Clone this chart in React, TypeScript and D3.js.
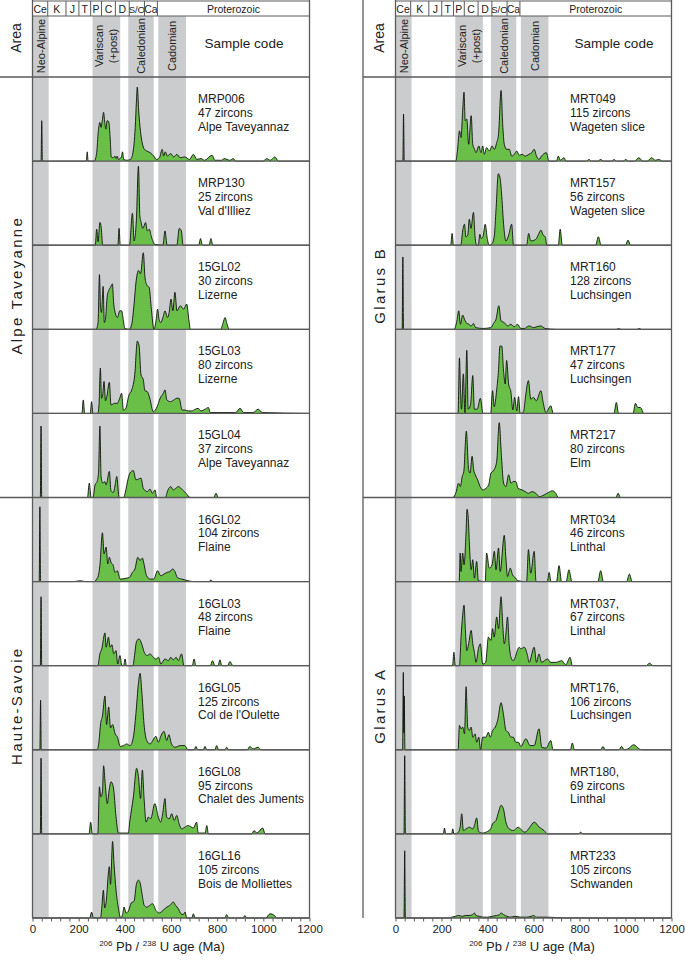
import React, { useEffect, useRef } from 'react';
import * as d3 from 'd3';

// geological time scale (Ma)
const periodNames = ["Ce", "K", "J", "T", "P", "C", "D", "S/O", "Ca", "Proterozoic"];
const periodBounds = [0, 66, 145, 201, 252, 299, 359, 419, 485, 541, 1200];

// orogenic bands (Ma)
const bandLabels = [["Neo-Alpine"], ["Variscan", "(+post)"], ["Caledonian"], ["Cadomian"]];
const bandStarts = [0, 260, 415, 545];
const bandEnds = [70, 380, 525, 665];

const leftAreas = ["Alpe Taveyanne", "Haute-Savoie"];
const rightAreas = ["Glarus B", "Glarus A"];

const leftCodes = ["MRP006", "MRP130", "15GL02", "15GL03", "15GL04", "16GL02", "16GL03", "16GL05", "16GL08", "16GL16"];
const leftCounts = [47, 25, 30, 80, 37, 104, 48, 125, 95, 105];
const leftPlaces = ["Alpe Taveyannaz", "Val d'Illiez", "Lizerne", "Lizerne", "Alpe Taveyannaz", "Flaine", "Flaine", "Col de l'Oulette", "Chalet des Juments", "Bois de Molliettes"];

const rightCodes = ["MRT049", "MRT157", "MRT160", "MRT177", "MRT217", "MRT034", "MRT037,", "MRT176,", "MRT180,", "MRT233"];
const rightCounts = [115, 56, 128, 47, 80, 46, 67, 106, 69, 105];
const rightPlaces = ["Wageten slice", "Wageten slice", "Luchsingen", "Luchsingen", "Elm", "Linthal", "Linthal", "Luchsingen", "Linthal", "Schwanden"];

// probability density curves: [age Ma, relative density %]
const leftCurves: number[][][] = [
    [[0,0],[37,0],[40,48],[43,0],[233,0],[237,11],[241,0],[268,0],[278,10],[285,35],[292,46],[297,40],[302,48],[308,58],[313,46],[318,38],[323,48],[330,47],[337,25],[341,5],[350,4],[357,6],[362,3],[367,6],[372,2],[385,5],[390,11],[395,2],[410,1],[425,2],[435,10],[445,40],[450,70],[454,88],[460,60],[468,35],[475,22],[485,14],[495,12],[510,10],[525,6],[537,2],[550,4],[562,14],[568,6],[575,11],[585,6],[598,9],[612,5],[625,8],[640,4],[660,5],[680,2],[697,8],[712,2],[730,3],[745,1],[778,7],[790,1],[820,1],[830,3],[855,1],[870,3],[880,0],[1000,0],[1014,3],[1030,1],[1050,5],[1065,0],[1200,0]],
    [[0,0],[272,0],[278,19],[284,4],[292,27],[298,20],[304,0],[370,0],[375,20],[380,0],[420,0],[433,38],[440,5],[450,30],[459,94],[465,35],[470,28],[478,20],[490,27],[497,17],[506,19],[515,10],[530,1],[565,0],[574,17],[583,0],[625,0],[636,20],[645,17],[652,0],[720,0],[728,8],[736,0],[765,0],[773,8],[781,0],[1200,0]],
    [[0,0],[275,0],[284,8],[290,65],[295,25],[299,20],[306,51],[311,8],[316,12],[324,40],[330,46],[338,50],[346,54],[352,30],[358,20],[368,14],[378,22],[386,22],[394,10],[400,1],[420,0],[430,6],[440,30],[448,55],[459,70],[468,66],[480,91],[488,60],[497,52],[505,50],[515,24],[526,0],[535,10],[542,24],[548,12],[555,8],[565,14],[574,22],[585,14],[592,20],[600,36],[608,22],[617,44],[626,22],[640,28],[655,24],[668,30],[678,10],[684,0],[815,0],[826,8],[834,14],[843,6],[852,0],[1200,0]],
    [[0,0],[214,0],[220,16],[226,0],[250,0],[256,14],[262,0],[283,0],[288,10],[294,54],[299,18],[304,22],[310,38],[316,15],[322,20],[333,37],[340,10],[355,12],[367,12],[378,18],[386,24],[394,4],[404,6],[418,22],[430,28],[443,46],[454,86],[462,80],[470,46],[480,40],[487,27],[497,26],[508,18],[523,2],[540,8],[553,18],[567,24],[574,28],[582,16],[598,14],[612,16],[625,18],[635,18],[648,4],[660,4],[675,3],[690,3],[705,5],[718,6],[730,3],[748,5],[762,7],[770,1],[880,1],[899,6],[915,1],[955,1],[978,5],[995,1],[1200,0]],
    [[0,0],[34,0],[37,85],[40,0],[238,0],[246,17],[254,0],[262,0],[271,15],[280,19],[286,30],[292,85],[297,25],[305,17],[313,19],[319,15],[333,31],[340,8],[350,6],[358,15],[365,25],[375,0],[395,0],[402,6],[414,22],[422,29],[437,32],[448,21],[470,23],[480,11],[497,7],[509,10],[519,5],[531,9],[538,0],[575,0],[587,9],[599,13],[610,9],[621,11],[632,13],[650,9],[665,5],[683,0],[785,0],[795,5],[805,0],[1200,0]],
    [[0,0],[29,0],[32,89],[35,0],[180,0],[206,1],[230,0],[268,0],[278,3],[285,7],[292,19],[303,58],[310,33],[319,41],[326,21],[333,29],[340,23],[350,19],[357,11],[367,13],[380,3],[405,4],[420,5],[433,11],[444,15],[456,29],[466,25],[476,28],[483,21],[494,7],[510,3],[525,3],[542,13],[555,7],[570,9],[584,11],[596,12],[607,15],[617,12],[627,5],[646,3],[660,2],[700,0],[765,0],[773,2],[781,0],[1200,0]],
    [[0,0],[34,0],[37,82],[40,0],[283,0],[292,14],[300,20],[314,39],[319,22],[329,34],[336,22],[344,25],[352,14],[362,18],[369,2],[379,12],[387,0],[395,0],[401,8],[407,0],[435,0],[442,12],[450,28],[461,32],[473,26],[484,16],[497,12],[509,14],[523,10],[535,8],[546,10],[556,2],[574,8],[589,6],[599,10],[610,7],[622,10],[632,6],[646,14],[656,0],[692,0],[700,8],[708,0],[770,0],[780,6],[790,0],[804,0],[812,7],[820,0],[845,0],[855,5],[868,0],[1200,0]],
    [[0,0],[32,0],[35,59],[38,0],[280,0],[288,10],[295,31],[303,40],[314,64],[321,30],[330,51],[338,26],[347,30],[358,19],[368,15],[380,4],[394,5],[408,7],[423,5],[437,15],[448,43],[459,79],[466,91],[473,71],[483,31],[495,11],[509,7],[535,16],[545,9],[557,17],[570,22],[581,11],[591,18],[602,7],[617,3],[640,5],[660,5],[673,0],[700,0],[708,4],[716,0],[740,0],[747,4],[755,0],[790,0],[798,5],[806,0],[833,0],[841,3],[850,0],[930,0],[942,4],[955,1],[978,3],[990,0],[1200,0]],
    [[0,0],[34,0],[37,90],[40,0],[245,0],[252,14],[259,0],[283,0],[290,56],[296,44],[303,50],[308,81],[315,60],[324,36],[332,52],[340,62],[350,56],[362,20],[372,1],[415,1],[422,16],[437,44],[451,78],[459,68],[468,42],[476,76],[483,44],[492,14],[502,20],[512,18],[530,36],[545,20],[555,14],[564,24],[574,42],[581,20],[593,18],[603,24],[614,16],[625,22],[635,12],[646,6],[660,8],[675,10],[697,7],[711,14],[718,1],[748,1],[755,10],[762,0],[950,0],[960,4],[972,1],[997,7],[1008,0],[1200,0]],
    [[0,0],[248,0],[256,7],[264,0],[295,0],[300,12],[307,33],[313,12],[318,17],[333,61],[338,40],[347,91],[353,65],[362,33],[372,12],[382,0],[390,4],[397,13],[405,6],[415,8],[428,18],[440,20],[450,40],[459,45],[466,42],[476,26],[484,15],[495,13],[508,15],[520,17],[535,9],[550,6],[565,9],[582,13],[595,15],[610,19],[620,15],[632,11],[643,5],[653,4],[661,7],[668,0],[690,0],[697,5],[704,0],[833,0],[841,4],[850,0],[912,0],[920,3],[928,0],[1010,0],[1029,5],[1048,3],[1060,0],[1200,0]],
];

const rightCurves: number[][][] = [
    [[0,0],[32,0],[35,56],[38,0],[262,0],[270,14],[278,36],[285,28],[292,60],[298,82],[303,48],[310,50],[318,20],[329,54],[336,20],[344,14],[350,10],[362,18],[372,10],[379,18],[386,8],[396,16],[408,12],[420,18],[430,14],[440,22],[448,32],[459,84],[466,44],[473,20],[483,14],[495,14],[505,6],[516,8],[527,12],[538,7],[550,8],[564,6],[580,8],[592,10],[603,14],[613,6],[624,2],[635,6],[656,10],[667,0],[700,0],[708,6],[716,1],[733,4],[741,0],[830,0],[841,2],[852,0],[880,0],[892,2],[904,0],[940,0],[950,2],[960,0],[990,0],[1000,2],[1012,0],[1040,0],[1058,4],[1075,0],[1095,0],[1113,4],[1130,1],[1145,2],[1160,0],[1200,0]],
    [[0,0],[240,0],[246,14],[252,0],[284,0],[292,17],[300,25],[306,10],[314,12],[321,31],[328,20],[339,39],[346,10],[352,0],[360,0],[367,13],[372,8],[380,10],[390,25],[399,8],[407,0],[420,2],[430,12],[437,42],[447,85],[454,81],[461,62],[470,25],[480,5],[492,12],[505,25],[513,0],[570,0],[579,14],[588,5],[610,7],[622,13],[632,18],[642,12],[651,10],[658,0],[708,0],[716,19],[725,0],[870,0],[882,10],[894,0],[1000,0],[1011,6],[1022,0],[1200,0]],
    [[0,0],[29,0],[32,86],[35,0],[255,0],[267,10],[275,22],[282,6],[292,17],[300,12],[307,8],[319,6],[329,4],[339,7],[348,2],[380,1],[415,2],[426,7],[437,12],[449,28],[459,10],[473,8],[487,4],[502,6],[516,3],[531,6],[545,1],[560,1],[581,4],[600,2],[614,3],[632,4],[650,1],[700,0],[960,0],[970,1],[980,0],[1050,0],[1060,1],[1070,0],[1200,0]],
    [[0,0],[272,0],[278,66],[283,25],[287,5],[295,47],[302,0],[310,75],[316,5],[326,10],[336,45],[343,5],[355,5],[369,18],[380,0],[414,0],[422,27],[429,8],[440,28],[448,52],[454,80],[462,80],[470,50],[477,35],[483,63],[492,35],[502,25],[510,4],[518,19],[527,3],[535,20],[542,0],[557,2],[564,17],[578,39],[588,17],[600,19],[612,15],[632,27],[642,13],[654,1],[675,9],[686,0],[950,0],[960,13],[970,0],[1033,0],[1043,12],[1054,7],[1065,7],[1080,0],[1200,0]],
    [[0,0],[250,0],[263,6],[274,17],[282,13],[290,25],[297,31],[308,79],[318,33],[324,29],[333,49],[340,33],[347,27],[357,21],[368,13],[379,9],[393,11],[405,15],[415,29],[429,33],[440,43],[451,89],[461,47],[470,17],[480,13],[492,27],[502,17],[512,19],[523,19],[533,11],[550,9],[564,7],[578,5],[593,7],[610,5],[625,1],[646,3],[665,6],[682,8],[697,5],[708,0],[958,0],[968,5],[978,0],[1200,0]],
    [[0,0],[277,0],[281,34],[285,12],[292,34],[298,20],[307,60],[311,86],[317,72],[322,40],[329,14],[336,26],[343,4],[353,24],[360,1],[390,0],[396,34],[408,16],[420,20],[430,36],[437,14],[448,40],[455,12],[473,55],[480,28],[487,6],[499,16],[509,8],[523,4],[532,1],[570,0],[578,38],[588,10],[603,36],[611,0],[660,0],[668,11],[676,0],[700,0],[711,19],[722,0],[742,0],[754,14],[767,0],[880,0],[892,13],[904,0],[1005,0],[1017,9],[1029,0],[1200,0]],
    [[0,0],[248,0],[254,16],[260,0],[278,0],[285,34],[292,60],[298,72],[304,42],[310,18],[318,26],[329,42],[336,26],[343,16],[350,4],[362,22],[369,26],[379,2],[392,4],[404,34],[415,30],[422,44],[429,34],[440,58],[448,44],[459,82],[466,50],[473,26],[480,38],[487,58],[494,26],[502,10],[512,6],[538,22],[545,20],[560,22],[574,12],[581,4],[603,22],[613,4],[624,14],[635,4],[661,8],[675,4],[697,4],[723,6],[740,1],[759,10],[769,0],[1090,0],[1104,3],[1120,0],[1200,0]],
    [[0,0],[31,0],[34,92],[36,20],[38,64],[41,0],[272,0],[278,29],[285,25],[292,27],[300,19],[307,75],[314,27],[321,23],[329,27],[336,15],[346,19],[353,9],[362,15],[370,0],[379,15],[393,15],[404,21],[412,15],[422,23],[434,27],[444,35],[459,56],[469,43],[480,23],[490,21],[502,15],[512,15],[523,9],[535,9],[545,4],[567,13],[585,5],[603,5],[624,25],[636,3],[655,2],[675,11],[685,0],[760,0],[769,8],[778,0],[892,0],[902,4],[912,0],[972,0],[983,4],[994,0],[1010,1],[1036,6],[1060,1],[1070,0],[1200,0]],
    [[0,0],[37,0],[40,93],[43,0],[208,0],[213,7],[218,0],[244,0],[249,6],[254,0],[270,1],[281,8],[288,24],[295,4],[307,6],[321,8],[336,6],[343,10],[353,19],[361,3],[379,1],[400,3],[414,6],[422,12],[437,16],[448,26],[459,34],[469,30],[480,14],[494,6],[512,4],[534,8],[550,4],[563,2],[584,8],[603,14],[625,8],[646,4],[661,0],[795,0],[805,2],[815,0],[1200,0]],
    [[0,0],[37,0],[40,80],[43,0],[230,0],[245,1],[260,2],[275,3],[290,2],[305,3],[320,3],[335,4],[343,6],[350,3],[365,2],[380,1],[400,1],[420,2],[440,3],[452,4],[459,6],[470,4],[485,2],[500,1],[520,2],[545,1],[570,1],[590,2],[600,3],[612,1],[640,1],[660,1],[740,0],[1200,0]],
];

const FONT = "'Liberation Sans', Arial, Helvetica, sans-serif";
const LINE = "#5a5a5a";
const GREEN = "#69bf48";
const BAND = "#cbcccd";

interface ColumnConfig {
    areaLeft: number;
    x0: number;
    x1: number;
    areas: string[];
    codes: string[];
    counts: number[];
    places: string[];
    curves: number[][][];
    textX: number;
    sampleHeadX: number;
    titleX: number;
    leftBorder: boolean;
}

const TOP = 1;
const ROW = 16;
const HEAD = 77;
const BOTTOM = 918;

function drawColumn(svg: d3.Selection<SVGSVGElement, unknown, null, undefined>, c: ColumnConfig) {
    const g = svg.append("g");
    const x = d3.scaleLinear().domain([0, 1200]).range([c.x0, c.x1]);
    const n = c.curves.length;
    const panelH = (BOTTOM - HEAD) / n;

    // grey bands
    bandStarts.forEach((s, i) => {
        g.append("rect")
            .attr("x", x(s)).attr("y", ROW)
            .attr("width", x(bandEnds[i]) - x(s))
            .attr("height", BOTTOM - ROW)
            .attr("fill", BAND);
    });

    // band labels
    bandLabels.forEach((lines, i) => {
        const cx = x((bandStarts[i] + bandEnds[i]) / 2);
        lines.forEach((t, j) => {
            const lx = cx + (j - (lines.length - 1) / 2) * 14;
            g.append("text")
                .attr("transform", `translate(${lx},46) rotate(-90)`)
                .attr("text-anchor", "middle")
                .attr("dominant-baseline", "central")
                .style("font-family", FONT)
                .style("font-size", "11px")
                .style("fill", "#222")
                .text(t);
        });
    });

    // period row
    g.append("rect")
        .attr("x", c.x0).attr("y", TOP)
        .attr("width", c.x1 - c.x0).attr("height", ROW - TOP)
        .attr("fill", "#fff").attr("stroke", LINE).attr("stroke-width", 1);
    periodNames.forEach((p, i) => {
        const a = x(periodBounds[i]);
        const b = x(periodBounds[i + 1]);
        if (i > 0) {
            g.append("line")
                .attr("x1", a).attr("x2", a).attr("y1", TOP).attr("y2", ROW)
                .attr("stroke", LINE).attr("stroke-width", 1);
        }
        g.append("text")
            .attr("x", (a + b) / 2).attr("y", ROW - 3.5)
            .attr("text-anchor", "middle")
            .style("font-family", FONT)
            .style("font-size", p.length > 2 && p.length < 5 ? "9.5px" : "10.5px")
            .style("fill", "#222")
            .text(p);
    });

    // density curves
    const y = d3.scaleLinear().domain([0, 100]).range([0, panelH]);
    c.curves.forEach((pts, i) => {
        const base = HEAD + panelH * (i + 1);
        const area = d3.area<number[]>()
            .x(d => x(d[0]))
            .y0(base)
            .y1(d => base - y(d[1]))
            .curve(d3.curveMonotoneX);
        const line = d3.line<number[]>()
            .x(d => x(d[0]))
            .y(d => base - y(d[1]))
            .curve(d3.curveMonotoneX);
        g.append("path").attr("d", area(pts) as string).attr("fill", GREEN);
        g.append("path").attr("d", line(pts) as string)
            .attr("fill", "none").attr("stroke", "#111").attr("stroke-width", 0.9);

        const top = HEAD + panelH * i;
        [c.codes[i], `${c.counts[i]} zircons`, c.places[i]].forEach((t, j) => {
            g.append("text")
                .attr("x", c.textX).attr("y", top + 26 + j * 13.8)
                .style("font-family", FONT)
                .style("font-size", "12px")
                .style("fill", "#222")
                .text(t);
        });
    });

    // panel dividers
    for (let i = 0; i <= n; i++) {
        const yy = HEAD + panelH * i;
        const full = i === 0 || i === n / 2;
        g.append("line")
            .attr("x1", full ? c.areaLeft : c.x0).attr("x2", c.x1)
            .attr("y1", yy).attr("y2", yy)
            .attr("stroke", LINE).attr("stroke-width", 1.3);
    }

    // frame verticals
    [c.x0, c.x1].concat(c.leftBorder ? [c.areaLeft] : []).forEach(v => {
        g.append("line")
            .attr("x1", v).attr("x2", v).attr("y1", 0).attr("y2", BOTTOM)
            .attr("stroke", LINE).attr("stroke-width", 1.3);
    });

    // headers
    const areaCx = (c.areaLeft + c.x0) / 2;
    g.append("text")
        .attr("transform", `translate(${areaCx},38) rotate(-90)`)
        .attr("text-anchor", "middle")
        .attr("dominant-baseline", "central")
        .style("font-family", FONT).style("font-size", "14px").style("fill", "#222")
        .text("Area");
    g.append("text")
        .attr("x", c.sampleHeadX).attr("y", 48)
        .attr("text-anchor", "middle")
        .style("font-family", FONT).style("font-size", "13.5px").style("fill", "#222")
        .text("Sample code");

    c.areas.forEach((a, i) => {
        const cy = HEAD + (BOTTOM - HEAD) * (i + 0.5) / c.areas.length - 2;
        g.append("text")
            .attr("transform", `translate(${areaCx},${cy}) rotate(-90)`)
            .attr("text-anchor", "middle")
            .attr("dominant-baseline", "central")
            .style("font-family", FONT).style("font-size", "15px")
            .style("letter-spacing", "2.3px").style("fill", "#222")
            .text(a);
    });

    // axis
    const ax = g.append("g")
        .attr("transform", `translate(0,${BOTTOM})`)
        .call(d3.axisBottom(x)
            .tickValues(d3.range(0, 1201, 40))
            .tickSize(3.5)
            .tickPadding(3)
            .tickFormat(d => (+d % 200 === 0 ? String(d) : "")));
    ax.select(".domain").remove();
    ax.selectAll("line").attr("stroke", LINE);
    ax.selectAll("text")
        .style("font-family", FONT).style("font-size", "11.5px").style("fill", "#222");

    const title = g.append("text")
        .attr("x", c.titleX).attr("y", 951)
        .attr("text-anchor", "middle")
        .style("font-family", FONT).style("font-size", "13px").style("fill", "#222");
    title.append("tspan").attr("dy", -5).style("font-size", "8px").text("206");
    title.append("tspan").attr("dy", 5).text(" Pb / ");
    title.append("tspan").attr("dy", -5).style("font-size", "8px").text("238");
    title.append("tspan").attr("dy", 5).text(" U age (Ma)");
}

const App: React.FC = () => {
    const svgRef = useRef<SVGSVGElement>(null);

    useEffect(() => {
        if (!svgRef.current) return;
        const svg = d3.select(svgRef.current);
        svg.selectAll("*").remove();
        svg.append("rect").attr("width", 685).attr("height", 960).attr("fill", "#fff");

        drawColumn(svg, {
            areaLeft: 0, x0: 32.5, x1: 309.5,
            areas: leftAreas, codes: leftCodes, counts: leftCounts, places: leftPlaces,
            curves: leftCurves, textX: 198, sampleHeadX: 244, titleX: 162, leftBorder: false,
        });
        drawColumn(svg, {
            areaLeft: 363, x0: 395.5, x1: 671.5,
            areas: rightAreas, codes: rightCodes, counts: rightCounts, places: rightPlaces,
            curves: rightCurves, textX: 570, sampleHeadX: 614, titleX: 532, leftBorder: true,
        });
    }, []);

    return (
        <svg ref={svgRef} width={685} height={960}
            style={{ position: 'absolute', left: 0, top: 0 }} />
    );
};

export default App;
